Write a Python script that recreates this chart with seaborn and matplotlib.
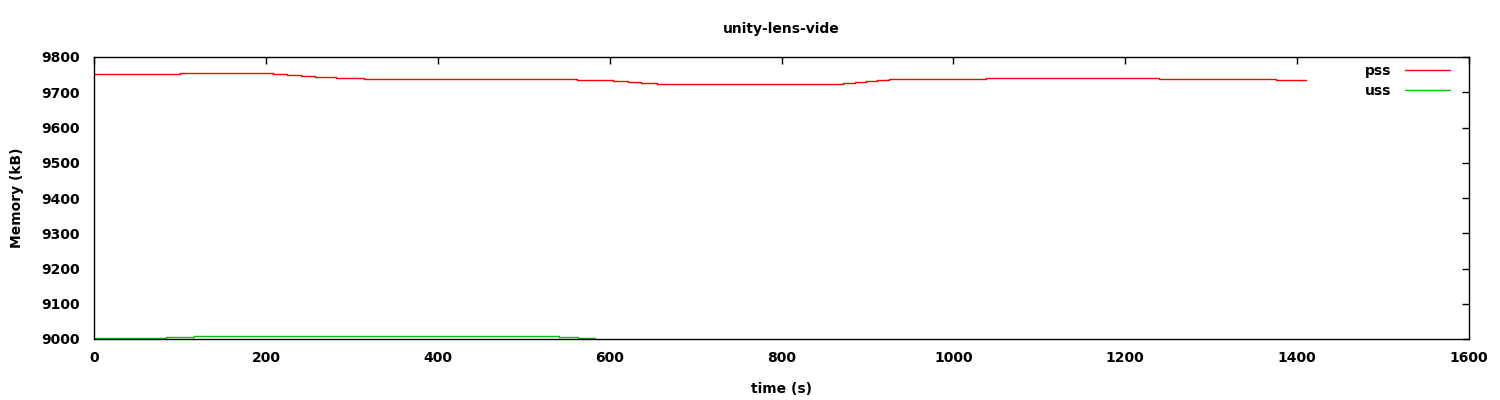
import pandas as pd
import matplotlib
matplotlib.use("Agg")
import matplotlib.pyplot as plt
import seaborn as sns

# step points (time in s, memory in kB)
pss_time = [0, 100, 208, 224, 241, 257, 282, 314, 562, 604, 621, 637, 655,
            871, 886, 898, 911, 925, 1038, 1239, 1375, 1410]
pss_mem = [9752, 9755, 9752, 9749, 9747, 9744, 9741, 9738, 9735, 9732, 9730, 9727, 9724,
           9727, 9730, 9732, 9735, 9738, 9741, 9738, 9735, 9735]

uss_time = [0, 84, 116, 541, 563, 583]
uss_mem = [9002, 9005, 9008, 9005, 9002, 9002]

x_ticks = [0, 200, 400, 600, 800, 1000, 1200, 1400, 1600]
y_ticks = [9000, 9100, 9200, 9300, 9400, 9500, 9600, 9700, 9800]

title = "unity-lens-vide"

sns.set_style("white")
plt.rcParams['font.family'] = ['DejaVu Sans']
plt.rcParams['text.color'] = 'black'
plt.rcParams['axes.labelcolor'] = 'black'

df = pd.concat([
    pd.DataFrame({'time': pss_time, 'mem': pss_mem, 'series': 'pss'}),
    pd.DataFrame({'time': uss_time, 'mem': uss_mem, 'series': 'uss'}),
])

fig = plt.figure(figsize=(15, 4), dpi=100)
ax = fig.add_axes([0.0627, 0.1525, 0.9166, 0.705])

sns.lineplot(data=df, x='time', y='mem', hue='series',
             palette={'pss': '#ff0000', 'uss': '#00c000'},
             drawstyle='steps-post', linewidth=1, ax=ax)

ax.set_xlim(0, 1600)
ax.set_ylim(9000, 9800)
ax.set_xticks(x_ticks)
ax.set_yticks(y_ticks)
ax.tick_params(direction='in', length=5, width=1, top=True, right=True,
               labelsize=10, colors='black')
ax.tick_params(axis='x', pad=9)
ax.tick_params(axis='y', pad=10.5)
for lab in ax.get_xticklabels() + ax.get_yticklabels():
    lab.set_fontweight('semibold')
for s in ax.spines.values():
    s.set_color('black')
    s.set_linewidth(1)

ax.set_xlabel("time (s)", fontsize=10, fontweight='semibold', labelpad=12)
ax.set_ylabel("Memory (kB)", fontsize=10, fontweight='semibold', labelpad=12)
ax.set_title(title, fontsize=10, fontweight='semibold', pad=17)

leg = ax.legend(loc='upper right', bbox_to_anchor=(0.986, 0.974),
                frameon=False, markerfirst=False,
                fontsize=10, handlelength=3.2, handletextpad=1.0,
                borderaxespad=0, borderpad=0, labelspacing=0.4)
for t in leg.get_texts():
    t.set_fontweight('semibold')

fig.savefig("out.png", dpi=100)
